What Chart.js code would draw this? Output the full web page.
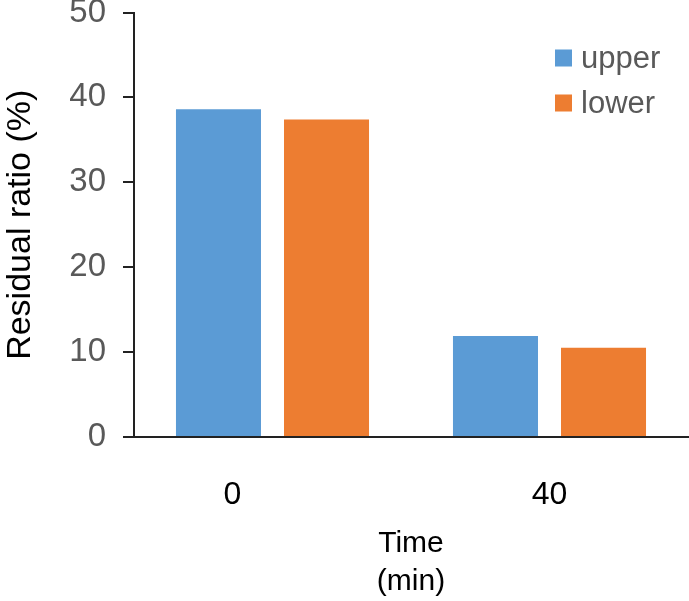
<!DOCTYPE html>
<html>
<head>
<meta charset="utf-8">
<script src="https://cdn.jsdelivr.net/npm/chart.js@4/dist/chart.umd.min.js"></script>
<style>
  html, body { margin: 0; padding: 0; background: #fff; }
  #wrap { width: 689px; height: 601px; }
</style>
</head>
<body>
<div id="wrap"><canvas id="barChart"></canvas></div>
<script>
// データ
var categories = ["0", "40"];
var upperValues = [38.6, 11.9];
var lowerValues = [37.4, 10.5];
var yTicks = [0, 10, 20, 30, 40, 50];

var FONT = "'Liberation Sans', Arial, sans-serif";

// 凡例（グラフ内右上）
var legendPlugin = {
    id: 'insideLegend',
    afterDraw: function (chart) {
        var ctx = chart.ctx;
        ctx.save();
        ctx.font = "31px " + FONT;
        ctx.textBaseline = 'middle';
        ctx.textAlign = 'left';
        chart.data.datasets.forEach(function (ds, i) {
            var y = 58 + i * 45;
            ctx.fillStyle = ds.backgroundColor;
            ctx.fillRect(555, y - 8.5, 17, 17);
            ctx.fillStyle = '#595959';
            ctx.fillText(ds.label, 581, y + 1);
        });
        ctx.restore();
    }
};

var ctx1 = document.getElementById("barChart");
var myChart = new Chart(ctx1, {
    type: 'bar',
    data: {
        labels: categories,
        datasets: [
            {
                label: "upper",
                data: upperValues,
                backgroundColor: "#5B9BD5",
                borderWidth: 0
            },
            {
                label: "lower",
                data: lowerValues,
                backgroundColor: "#ED7D31",
                borderWidth: 0
            }
        ]
    },
    options: {
        responsive: true,
        maintainAspectRatio: false,
        animation: false,
        datasets: {
            bar: {
                barPercentage: 0.787,
                categoryPercentage: 0.78
            }
        },
        layout: {
            padding: { top: 0, right: 1, bottom: 0, left: 0 }
        },
        plugins: {
            legend: { display: false },
            tooltip: { enabled: false }
        },
        scales: {
            x: {
                grid: { display: false },
                border: { display: true, color: '#222', width: 2 },
                ticks: {
                    color: '#000',
                    font: { family: FONT, size: 32 },
                    padding: 31,
                    // 0 のラベルは元図で左寄り
                    callback: function (v, i) {
                        var s = categories[i];
                        return i === 0 ? s + "         " : s;
                    }
                },
                title: {
                    display: true,
                    text: ["Time", "(min)"],
                    color: '#000',
                    font: { family: FONT, size: 30, lineHeight: 1.27 },
                    padding: { top: 0, bottom: 0 }
                },
                afterFit: function (scale) {
                    scale.height = 164;
                }
            },
            y: {
                min: 0,
                max: 50,
                afterBuildTicks: function (scale) {
                    scale.ticks = yTicks.map(function (v) { return { value: v }; });
                },
                grid: {
                    drawOnChartArea: false,
                    drawTicks: true,
                    tickLength: 11,
                    color: '#222',
                    lineWidth: 2
                },
                border: { display: true, color: '#222', width: 2 },
                ticks: {
                    color: '#595959',
                    font: { family: FONT, size: 33 },
                    padding: 17
                },
                title: {
                    display: true,
                    text: "Residual ratio (%)",
                    color: '#000',
                    font: { family: FONT, size: 34 },
                    padding: 0
                },
                afterFit: function (scale) {
                    scale.width = 134;
                    scale.paddingTop = 12.5;
                    scale.paddingBottom = 0;
                }
            }
        }
    },
    plugins: [legendPlugin]
});
</script>
</body>
</html>
